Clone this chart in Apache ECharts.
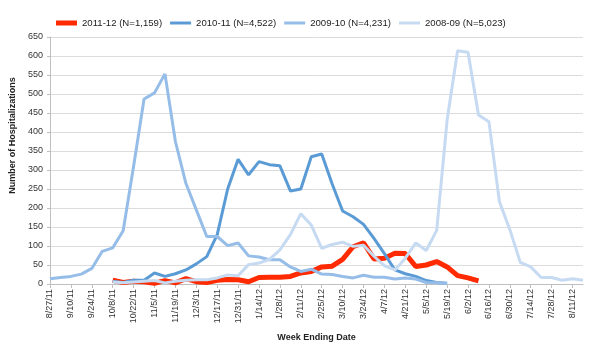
<!DOCTYPE html>
<html>
<head>
<meta charset="utf-8">
<script src="https://cdn.jsdelivr.net/npm/echarts@6/dist/echarts.min.js"></script>
<style>
  html, body { margin: 0; padding: 0; background: #fff; }
  #container { width: 600px; height: 350px; }
</style>
</head>
<body>
<div id="container"></div>
<script>
// week ending dates, one per category
var weeks = ['8/27/11', '9/3/11', '9/10/11', '9/17/11', '9/24/11', '10/1/11', '10/8/11', '10/15/11', '10/22/11', '10/29/11',
  '11/5/11', '11/12/11', '11/19/11', '11/26/11', '12/3/11', '12/10/11', '12/17/11', '12/24/11', '12/31/11', '1/7/12',
  '1/14/12', '1/21/12', '1/28/12', '2/4/12', '2/11/12', '2/18/12', '2/25/12', '3/3/12', '3/10/12', '3/17/12',
  '3/24/12', '3/31/12', '4/7/12', '4/14/12', '4/21/12', '4/28/12', '5/5/12', '5/12/12', '5/19/12', '5/26/12',
  '6/2/12', '6/9/12', '6/16/12', '6/23/12', '6/30/12', '7/7/12', '7/14/12', '7/21/12', '7/28/12', '8/4/12',
  '8/11/12', '8/18/12'];

var seasonNames = ['2011-12 (N=1,159)', '2010-11 (N=4,522)', '2009-10 (N=4,231)', '2008-09 (N=5,023)'];

var s2011 = [null, null, null, null, null, null, 10, 4, 7, 6,
  2, 9, 3, 14, 6, 4, 10, 12, 11, 6,
  17, 18, 18, 20, 29, 33, 45, 47, 65, 98,
  108, 66, 68, 81, 80, 46, 50, 59, 45, 22,
  16, 8, null, null, null, null, null, null, null, null,
  null, null];

var s2010 = [null, null, null, null, null, null, 7, 4, 10, 10,
  29, 20, 27, 37, 53, 72, 130, 250, 328, 287,
  322, 314, 311, 245, 250, 335, 342, 263, 192, 177,
  157, 120, 80, 37, 27, 20, 9, 4, 2, null,
  null, null, null, null, null, null, null, null, null, null,
  null, null];

var s2009 = [14, 17, 20, 26, 41, 86, 95, 140, 310, 487,
  503, 553, 375, 265, 195, 125, 125, 101, 108, 74,
  71, 64, 64, 45, 33, 39, 26, 25, 20, 16,
  23, 18, 18, 13, 16, 13, 4, 3, 1, null,
  null, null, null, null, null, null, null, null, null, null,
  null, null];

var s2008 = [null, null, null, null, null, null, 5, 3, 5, 7,
  9, 3, 7, 10, 11, 11, 16, 24, 22, 51,
  55, 65, 90, 130, 185, 155, 94, 104, 110, 99,
  102, 73, 48, 37, 68, 108, 88, 141, 432, 614,
  610, 445, 427, 217, 143, 57, 45, 17, 17, 10,
  14, 10];

var colors = ['#ff2a00', '#5b9bd5', '#95bde8', '#c6daf2'];
var widths = [5, 3, 3, 3];
var values = [s2011, s2010, s2009, s2008];

var chart = echarts.init(document.getElementById('container'));

var series = values.map(function (d, i) {
  return {
    name: seasonNames[i],
    type: 'line',
    data: d,
    symbol: 'none',
    connectNulls: false,
    lineStyle: { color: colors[i], width: widths[i] },
    itemStyle: { color: colors[i] }
  };
});

// plain line swatches for the legend
var legendData = seasonNames.map(function (n, i) {
  return {
    name: n,
    icon: 'path://M0,0h42v' + (widths[i] * 2) + 'h-42z',
    itemStyle: { color: colors[i] }
  };
});

var font = 'Arial, "Liberation Sans", sans-serif';

chart.setOption({
  animation: false,
  backgroundColor: '#fff',
  textStyle: { fontFamily: font },
  legend: {
    top: 13,
    left: 51,
    itemWidth: 21,
    itemHeight: 14,
    itemGap: 8,
    textStyle: { fontSize: 9.6, color: '#222', fontFamily: font },
    data: legendData
  },
  grid: { left: 50, right: 17, top: 37, bottom: 66 },
  xAxis: {
    type: 'category',
    boundaryGap: false,
    data: weeks,
    name: 'Week Ending Date',
    nameLocation: 'middle',
    nameGap: 49,
    nameTextStyle: { fontSize: 9, fontWeight: 'bold', color: '#222', fontFamily: font },
    axisLine: { lineStyle: { color: '#bfbfbf' } },
    axisTick: { interval: 1, length: 4, lineStyle: { color: '#bfbfbf' } },
    axisLabel: { interval: 1, rotate: 90, fontSize: 9, color: '#333', margin: 5, fontFamily: font },
    splitLine: { show: false }
  },
  yAxis: {
    type: 'value',
    min: 0,
    max: 650,
    interval: 50,
    name: 'Number of Hospitalizations',
    nameLocation: 'middle',
    nameGap: 24,
    nameTextStyle: { fontSize: 9, fontWeight: 'bold', color: '#222', padding: [0, 0, 0, 50], fontFamily: font },
    axisLine: { show: true, lineStyle: { color: '#bfbfbf' } },
    axisTick: { show: true, length: 3, lineStyle: { color: '#bfbfbf' } },
    axisLabel: { fontSize: 9, color: '#333', margin: 7, fontFamily: font },
    splitLine: { lineStyle: { color: '#dcdcdc' } }
  },
  series: series
});
</script>
</body>
</html>
